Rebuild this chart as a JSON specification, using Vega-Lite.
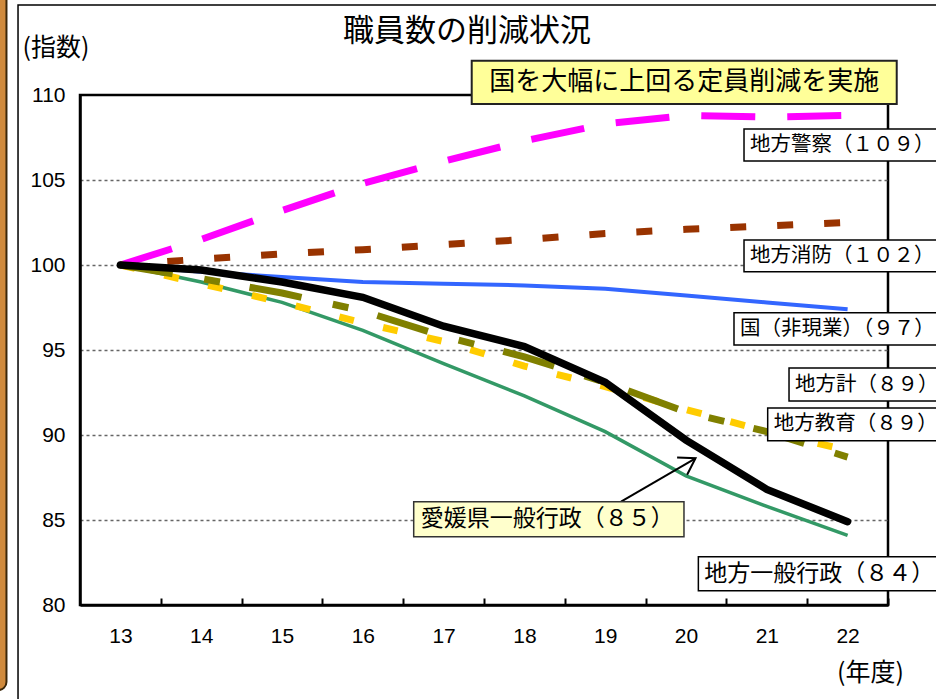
{
  "$schema": "https://vega.github.io/schema/vega-lite/v6.json",
  "width": 808,
  "height": 510,
  "autosize": {"type": "none"},
  "padding": {"left": 80, "top": 95, "right": 48, "bottom": 94},
  "background": "white",
  "config": {"view": {"stroke": "black", "strokeWidth": 2.5}},
  "datasets": {
    "lines": [
      {"series": "国（非現業）", "year": 13, "value": 100},
      {"series": "国（非現業）", "year": 14, "value": 99.6},
      {"series": "国（非現業）", "year": 15, "value": 99.3},
      {"series": "国（非現業）", "year": 16, "value": 99.0},
      {"series": "国（非現業）", "year": 17, "value": 98.9},
      {"series": "国（非現業）", "year": 18, "value": 98.8},
      {"series": "国（非現業）", "year": 19, "value": 98.6},
      {"series": "国（非現業）", "year": 20, "value": 98.2},
      {"series": "国（非現業）", "year": 21, "value": 97.8},
      {"series": "国（非現業）", "year": 22, "value": 97.4},
      {"series": "地方消防", "year": 13, "value": 100},
      {"series": "地方消防", "year": 14, "value": 100.35},
      {"series": "地方消防", "year": 15, "value": 100.65},
      {"series": "地方消防", "year": 16, "value": 100.9},
      {"series": "地方消防", "year": 17, "value": 101.2},
      {"series": "地方消防", "year": 18, "value": 101.5},
      {"series": "地方消防", "year": 19, "value": 101.85},
      {"series": "地方消防", "year": 20, "value": 102.1},
      {"series": "地方消防", "year": 21, "value": 102.3},
      {"series": "地方消防", "year": 22, "value": 102.5},
      {"series": "地方警察", "year": 13, "value": 100},
      {"series": "地方警察", "year": 14, "value": 101.5},
      {"series": "地方警察", "year": 15, "value": 103.2},
      {"series": "地方警察", "year": 16, "value": 104.8},
      {"series": "地方警察", "year": 17, "value": 106.1},
      {"series": "地方警察", "year": 18, "value": 107.3},
      {"series": "地方警察", "year": 19, "value": 108.3},
      {"series": "地方警察", "year": 20, "value": 108.8},
      {"series": "地方警察", "year": 21, "value": 108.7},
      {"series": "地方警察", "year": 22, "value": 108.8},
      {"series": "地方一般行政", "year": 13, "value": 100},
      {"series": "地方一般行政", "year": 14, "value": 99.0},
      {"series": "地方一般行政", "year": 15, "value": 97.8},
      {"series": "地方一般行政", "year": 16, "value": 96.15},
      {"series": "地方一般行政", "year": 17, "value": 94.2},
      {"series": "地方一般行政", "year": 18, "value": 92.3},
      {"series": "地方一般行政", "year": 19, "value": 90.2},
      {"series": "地方一般行政", "year": 20, "value": 87.6},
      {"series": "地方一般行政", "year": 21, "value": 85.8},
      {"series": "地方一般行政", "year": 22, "value": 84.1},
      {"series": "地方教育", "year": 13, "value": 100},
      {"series": "地方教育", "year": 14, "value": 98.9},
      {"series": "地方教育", "year": 15, "value": 97.8},
      {"series": "地方教育", "year": 16, "value": 96.6},
      {"series": "地方教育", "year": 17, "value": 95.5},
      {"series": "地方教育", "year": 18, "value": 94.05},
      {"series": "地方教育", "year": 19, "value": 92.85},
      {"series": "地方教育", "year": 20, "value": 91.5},
      {"series": "地方教育", "year": 21, "value": 90.2},
      {"series": "地方教育", "year": 22, "value": 89.1},
      {"series": "地方計", "year": 13, "value": 100},
      {"series": "地方計", "year": 14, "value": 99.2},
      {"series": "地方計", "year": 15, "value": 98.35},
      {"series": "地方計", "year": 16, "value": 97.3},
      {"series": "地方計", "year": 17, "value": 95.8},
      {"series": "地方計", "year": 18, "value": 94.6},
      {"series": "地方計", "year": 19, "value": 93.1},
      {"series": "地方計", "year": 20, "value": 91.35},
      {"series": "地方計", "year": 21, "value": 90.2},
      {"series": "地方計", "year": 22, "value": 88.7},
      {"series": "愛媛県一般行政", "year": 13, "value": 100},
      {"series": "愛媛県一般行政", "year": 14, "value": 99.7},
      {"series": "愛媛県一般行政", "year": 15, "value": 99.0},
      {"series": "愛媛県一般行政", "year": 16, "value": 98.1},
      {"series": "愛媛県一般行政", "year": 17, "value": 96.4},
      {"series": "愛媛県一般行政", "year": 18, "value": 95.2},
      {"series": "愛媛県一般行政", "year": 19, "value": 93.1},
      {"series": "愛媛県一般行政", "year": 20, "value": 89.7},
      {"series": "愛媛県一般行政", "year": 21, "value": 86.8},
      {"series": "愛媛県一般行政", "year": 22, "value": 84.9}
    ]
  },
  "data": {"name": "lines"},
  "layer": [
    {
      "transform": [{"filter": "datum.series === '国（非現業）'"}],
      "mark": {"type": "line", "color": "#3366FF", "strokeWidth": 4},
      "encoding": {
        "x": {
          "field": "year", "type": "quantitative",
          "scale": {"domain": [12.5, 22.5], "nice": false, "zero": false},
          "axis": {
            "values": [13, 14, 15, 16, 17, 18, 19, 20, 21, 22], "format": "d",
            "tickOffset": 40.4, "labelOffset": -40.4,
            "tickSize": -7, "tickWidth": 2, "tickColor": "black",
            "domainColor": "black", "domainWidth": 2.5,
            "labelFont": "Liberation Sans", "labelFontSize": 21, "labelFontWeight": "normal", "labelColor": "black",
            "labelPadding": 27, "labelFlush": false, "labelOverlap": false, "grid": false,
            "title": "(年度)", "titleFont": "Noto Sans CJK JP", "titleFontSize": 25, "titleFontWeight": "normal", "titleColor": "black",
            "titleX": 790, "titleY": 67, "titleAlign": "center", "titleBaseline": "middle", "titleAnchor": null
          }
        },
        "y": {
          "field": "value", "type": "quantitative",
          "scale": {"domain": [80, 110], "nice": false, "zero": false},
          "axis": {
            "values": [80, 85, 90, 95, 100, 105, 110],
            "ticks": false,
            "domainColor": "black", "domainWidth": 2.5,
            "labelFont": "Liberation Sans", "labelFontSize": 21, "labelFontWeight": "normal", "labelColor": "black", "labelPadding": 15,
            "grid": true, "gridColor": "#666666", "gridDash": [3, 3], "gridWidth": 1.3,
            "gridOpacity": {"condition": {"test": "datum.value === 80 || datum.value === 110", "value": 0}, "value": 1},
            "title": "(指数)", "titleAngle": 0, "titleAlign": "left", "titleBaseline": "middle",
            "titleX": -58, "titleY": -48, "titleFont": "Noto Sans CJK JP", "titleFontSize": 25, "titleFontWeight": "normal", "titleColor": "black"
          }
        }
      }
    },
    {
      "transform": [{"filter": "datum.series === '地方消防'"}],
      "mark": {"type": "line", "color": "#993300", "strokeWidth": 7, "strokeDash": [16, 31]},
      "encoding": {"x": {"field": "year", "type": "quantitative"}, "y": {"field": "value", "type": "quantitative"}}
    },
    {
      "transform": [{"filter": "datum.series === '地方警察'"}],
      "mark": {"type": "line", "color": "#FF00FF", "strokeWidth": 7, "strokeDash": [54, 32]},
      "encoding": {"x": {"field": "year", "type": "quantitative"}, "y": {"field": "value", "type": "quantitative"}}
    },
    {
      "transform": [{"filter": "datum.series === '地方一般行政'"}],
      "mark": {"type": "line", "color": "#339966", "strokeWidth": 3.5},
      "encoding": {"x": {"field": "year", "type": "quantitative"}, "y": {"field": "value", "type": "quantitative"}}
    },
    {
      "transform": [{"filter": "datum.series === '地方教育'"}],
      "mark": {"type": "line", "color": "#FFCC00", "strokeWidth": 7, "strokeDash": [15, 30]},
      "encoding": {"x": {"field": "year", "type": "quantitative"}, "y": {"field": "value", "type": "quantitative"}}
    },
    {
      "transform": [{"filter": "datum.series === '地方計'"}],
      "mark": {"type": "line", "color": "#808000", "strokeWidth": 7, "strokeDash": [53, 32, 16, 30]},
      "encoding": {"x": {"field": "year", "type": "quantitative"}, "y": {"field": "value", "type": "quantitative"}}
    },
    {
      "transform": [{"filter": "datum.series === '愛媛県一般行政'"}],
      "mark": {"type": "line", "color": "black", "strokeWidth": 7.5, "strokeCap": "round"},
      "encoding": {"x": {"field": "year", "type": "quantitative"}, "y": {"field": "value", "type": "quantitative"}}
    },
    {
      "data": {"values": [{"label": "frame"}]},
      "mark": {"type": "rect", "filled": false, "stroke": "black", "strokeWidth": 1.5},
      "encoding": {"x": {"datum": 11.733}, "x2": {"datum": 23.9}, "y": {"datum": 115.3}, "y2": {"datum": 68.5}}
    },
    {
      "data": {"values": [{"label": "edge"}]},
      "mark": {"type": "rect", "fill": "#D08A3C", "stroke": "#3B2608", "strokeWidth": 2, "cornerRadius": 8},
      "encoding": {"x": {"datum": 11.139}, "x2": {"datum": 11.59}, "y": {"datum": 117.4}, "y2": {"datum": 75.0}}
    },
    {
      "data": {"values": [{"label": "職員数の削減状況"}]},
      "mark": {"type": "text", "align": "center", "baseline": "middle", "font": "Noto Sans CJK JP", "fontSize": 31, "color": "black"},
      "encoding": {"x": {"datum": 17.29}, "y": {"datum": 113.7}, "text": {"field": "label"}}
    },
    {
      "data": {"values": [{"label": "国を大幅に上回る定員削減を実施"}]},
      "layer": [
        {"mark": {"type": "rect", "fill": "#FFFF99", "stroke": "#222222", "strokeWidth": 2},
         "encoding": {"x": {"datum": 17.348}, "x2": {"datum": 22.608}, "y": {"datum": 112.02}, "y2": {"datum": 109.47}}},
        {"mark": {"type": "text", "align": "center", "baseline": "middle", "font": "Noto Sans CJK JP", "fontSize": 26, "color": "black"},
         "encoding": {"x": {"datum": 19.978}, "y": {"datum": 110.75}, "text": {"field": "label"}}}
      ]
    },
    {
      "data": {"values": [{"label": "地方警察（１０９）"}]},
      "layer": [
        {"mark": {"type": "rect", "fill": "white", "stroke": "black", "strokeWidth": 1.5},
         "encoding": {"x": {"datum": 20.718}, "x2": {"datum": 23.3}, "y": {"datum": 108.0}, "y2": {"datum": 106.118}}},
        {"mark": {"type": "text", "align": "left", "baseline": "middle", "dx": 6, "font": "Noto Sans CJK JP", "fontSize": 20.5, "color": "black"},
         "encoding": {"x": {"datum": 20.718}, "y": {"datum": 107.06}, "text": {"field": "label"}}}
      ]
    },
    {
      "data": {"values": [{"label": "地方消防（１０２）"}]},
      "layer": [
        {"mark": {"type": "rect", "fill": "white", "stroke": "black", "strokeWidth": 1.5},
         "encoding": {"x": {"datum": 20.718}, "x2": {"datum": 23.3}, "y": {"datum": 101.47}, "y2": {"datum": 99.606}}},
        {"mark": {"type": "text", "align": "left", "baseline": "middle", "dx": 6, "font": "Noto Sans CJK JP", "fontSize": 20.5, "color": "black"},
         "encoding": {"x": {"datum": 20.718}, "y": {"datum": 100.53}, "text": {"field": "label"}}}
      ]
    },
    {
      "data": {"values": [{"label": "国（非現業）（９７）"}]},
      "layer": [
        {"mark": {"type": "rect", "fill": "white", "stroke": "black", "strokeWidth": 1.5},
         "encoding": {"x": {"datum": 20.594}, "x2": {"datum": 23.3}, "y": {"datum": 97.19}, "y2": {"datum": 95.29}}},
        {"mark": {"type": "text", "align": "left", "baseline": "middle", "dx": 6, "font": "Noto Sans CJK JP", "fontSize": 20.5, "color": "black"},
         "encoding": {"x": {"datum": 20.594}, "y": {"datum": 96.235}, "text": {"field": "label"}}}
      ]
    },
    {
      "data": {"values": [{"label": "地方計（８９）"}]},
      "layer": [
        {"mark": {"type": "rect", "fill": "white", "stroke": "black", "strokeWidth": 1.5},
         "encoding": {"x": {"datum": 21.275}, "x2": {"datum": 23.3}, "y": {"datum": 93.94}, "y2": {"datum": 92.0}}},
        {"mark": {"type": "text", "align": "left", "baseline": "middle", "dx": 6, "font": "Noto Sans CJK JP", "fontSize": 20.5, "color": "black"},
         "encoding": {"x": {"datum": 21.275}, "y": {"datum": 92.97}, "text": {"field": "label"}}}
      ]
    },
    {
      "data": {"values": [{"label": "地方教育（８９）"}]},
      "layer": [
        {"mark": {"type": "rect", "fill": "white", "stroke": "black", "strokeWidth": 1.5},
         "encoding": {"x": {"datum": 21.011}, "x2": {"datum": 23.3}, "y": {"datum": 91.59}, "y2": {"datum": 89.665}}},
        {"mark": {"type": "text", "align": "left", "baseline": "middle", "dx": 6, "font": "Noto Sans CJK JP", "fontSize": 20.5, "color": "black"},
         "encoding": {"x": {"datum": 21.011}, "y": {"datum": 90.63}, "text": {"field": "label"}}}
      ]
    },
    {
      "data": {"values": [{"label": "地方一般行政（８４）"}]},
      "layer": [
        {"mark": {"type": "rect", "fill": "white", "stroke": "black", "strokeWidth": 1.5},
         "encoding": {"x": {"datum": 20.153}, "x2": {"datum": 23.3}, "y": {"datum": 82.84}, "y2": {"datum": 80.84}}},
        {"mark": {"type": "text", "align": "left", "baseline": "middle", "dx": 6, "font": "Noto Sans CJK JP", "fontSize": 23, "color": "black"},
         "encoding": {"x": {"datum": 20.153}, "y": {"datum": 81.84}, "text": {"field": "label"}}}
      ]
    },
    {
      "data": {"values": [{"label": "愛媛県一般行政（８５）"}]},
      "layer": [
        {"mark": {"type": "rule", "color": "black", "strokeWidth": 2},
         "encoding": {"x": {"datum": 19.196}, "y": {"datum": 86.08}, "x2": {"datum": 20.118}, "y2": {"datum": 88.63}}},
        {"mark": {"type": "point", "shape": "M -1 -0.645 L 0 0 L -1 0.645", "filled": false, "stroke": "black", "strokeWidth": 2, "size": 961, "angle": -30, "opacity": 1},
         "encoding": {"x": {"datum": 20.118}, "y": {"datum": 88.63}}},
        {"mark": {"type": "rect", "fill": "#FFFFCC", "stroke": "#333333", "strokeWidth": 1.5},
         "encoding": {"x": {"datum": 16.63}, "x2": {"datum": 19.975}, "y": {"datum": 86.08}, "y2": {"datum": 84.02}}},
        {"mark": {"type": "text", "align": "left", "baseline": "middle", "dx": 7, "font": "Noto Sans CJK JP", "fontSize": 23, "color": "black"},
         "encoding": {"x": {"datum": 16.63}, "y": {"datum": 85.05}, "text": {"field": "label"}}}
      ]
    }
  ]
}
